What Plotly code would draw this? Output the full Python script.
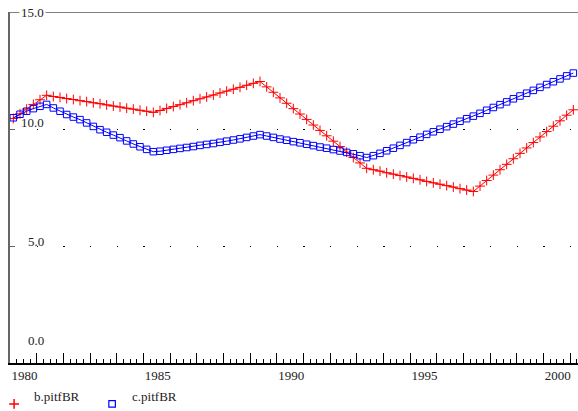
import plotly.graph_objects as go

# ---- data -------------------------------------------------------------
# quarterly observations 1980Q1 .. 2001Q1, plotted at the middle of each quarter
start_year = 1980
n_quarters = 85
quarters = [start_year + i / 4 + 0.125 for i in range(n_quarters)]

series_names = ["b.pitfBR", "c.pitfBR"]

b_pitfBR = [
    10.45, 10.65, 10.85, 11.05, 11.25, 11.44,
    11.39, 11.35, 11.30, 11.26, 11.21, 11.17, 11.12, 11.08, 11.03, 10.98,
    10.94, 10.89, 10.85, 10.80, 10.76, 10.71,
    10.79, 10.88, 10.96, 11.04, 11.12, 11.21, 11.29, 11.37, 11.45, 11.54,
    11.62, 11.70, 11.78, 11.87, 11.95, 12.03,
    11.80, 11.57, 11.33, 11.10, 10.87, 10.64, 10.41, 10.17, 9.94, 9.71,
    9.48, 9.25, 9.01, 8.78, 8.55, 8.32,
    8.26, 8.20, 8.13, 8.07, 8.01, 7.95, 7.89, 7.83, 7.76, 7.70,
    7.64, 7.58, 7.52, 7.45, 7.39, 7.33,
    7.56, 7.80, 8.03, 8.26, 8.49, 8.73, 8.96, 9.19, 9.42, 9.66,
    9.89, 10.12, 10.35, 10.59, 10.82,
]

c_pitfBR = [
    10.48, 10.63, 10.76, 10.87, 10.97, 11.05,
    10.90, 10.76, 10.62, 10.51, 10.40, 10.26, 10.11, 9.97, 9.86, 9.74,
    9.63, 9.49, 9.36, 9.24, 9.13, 9.03,
    9.05, 9.09, 9.13, 9.17, 9.21, 9.25, 9.30, 9.34, 9.38, 9.43,
    9.48, 9.53, 9.58, 9.64, 9.70, 9.76,
    9.70, 9.64, 9.57, 9.52, 9.46, 9.41, 9.35, 9.29, 9.23, 9.18,
    9.12, 9.06, 9.00, 8.94, 8.86, 8.78,
    8.86, 8.96, 9.07, 9.18, 9.30, 9.42, 9.54, 9.65, 9.77, 9.88,
    9.99, 10.10, 10.21, 10.33, 10.44, 10.55,
    10.67, 10.80, 10.92, 11.04, 11.16, 11.29, 11.41, 11.53, 11.65, 11.78,
    11.90, 12.02, 12.14, 12.27, 12.39,
]

x_tick_years = list(range(1980, 2002))
x_label_every = 5
y_tick_values = [0, 5, 10, 15]
y_tick_labels = ["0.0", "5.0", "10.0", "15.0"]

# ---- styling ----------------------------------------------------------
FONT = "Liberation Serif"
RED = "#ff0000"
BLUE = "#0000ff"
TXT = "#222222"

x_range = [1980, 2001.3]
y_range = [0, 15]

fig = go.Figure()

fig.add_trace(go.Scatter(
    x=quarters, y=b_pitfBR, mode="lines+markers", showlegend=False,
    line=dict(color=RED, width=1),
    marker=dict(symbol="cross-thin-open", size=7, color=RED, line=dict(color=RED, width=1)),
))
fig.add_trace(go.Scatter(
    x=quarters, y=c_pitfBR, mode="lines+markers", showlegend=False,
    line=dict(color=BLUE, width=1),
    marker=dict(symbol="square-open", size=6.5, color=BLUE, line=dict(color=BLUE, width=1)),
))

# legend-only entries (markers only, as in the reference)
fig.add_trace(go.Scatter(
    x=[None], y=[None], mode="markers", name=series_names[0] + "<br> ",
    marker=dict(symbol="cross-thin-open", size=7, color=RED, line=dict(color=RED, width=1.5)),
))
fig.add_trace(go.Scatter(
    x=[None], y=[None], mode="markers", name=series_names[1] + "<br> ",
    marker=dict(symbol="square-open", size=6.5, color=BLUE, line=dict(color=BLUE, width=1.2)),
))

x_tick_text = [str(y) if (y - x_tick_years[0]) % x_label_every == 0 else "" for y in x_tick_years]

fig.update_xaxes(
    range=x_range, showline=True, linecolor="black", linewidth=2,
    ticks="inside", ticklen=10, tickwidth=1, tickcolor="black",
    tickvals=x_tick_years, ticktext=x_tick_text,
    ticklabelposition="outside right", ticklabelstandoff=-1,
    tickfont=dict(family=FONT, size=13, color=TXT),
    minor=dict(ticks="inside", ticklen=4, tickwidth=1, tickcolor="black",
               dtick=0.25, tick0=1980, showgrid=False),
    showgrid=False, zeroline=False, fixedrange=True, automargin=False,
)
fig.update_yaxes(
    range=y_range, showline=True, linecolor="#666666", linewidth=2,
    ticks="inside", ticklen=5, tickwidth=1, tickcolor="#666666",
    tickvals=y_tick_values, showticklabels=False,
    showgrid=True, gridcolor="black", gridwidth=1.2, griddash="1.2px,25.467px",
    zeroline=False, fixedrange=True, automargin=False,
)

# top frame line at 15.0
fig.add_shape(type="line", xref="paper", yref="y", x0=0, x1=1, y0=15, y1=15,
              line=dict(color="#808080", width=2), layer="above")

# y tick labels drawn inside the plot, right-aligned
label_yshift = {"0.0": 23, "5.0": 5, "10.0": 7, "15.0": 0}
for v, t in zip(y_tick_values, y_tick_labels):
    fig.add_annotation(
        x=0, xref="paper", y=v, yref="y", text=t, showarrow=False,
        xanchor="right", yanchor="middle", xshift=36, yshift=label_yshift[t],
        font=dict(family=FONT, size=13, color=TXT),
        bgcolor="white" if t == "15.0" else "rgba(0,0,0,0)", borderpad=1,
    )

fig.update_layout(
    width=578, height=411,
    margin=dict(l=10, r=0, t=12, b=48, autoexpand=False),
    paper_bgcolor="white", plot_bgcolor="white",
    font=dict(family=FONT, size=13, color=TXT),
    showlegend=True,
    legend=dict(
        orientation="h", x=-0.028, xanchor="left", y=-0.05, yanchor="top",
        entrywidth=53, entrywidthmode="pixels", itemwidth=30,
        font=dict(family=FONT, size=13, color=TXT),
        bgcolor="rgba(0,0,0,0)", valign="middle", tracegroupgap=0,
    ),
)

fig.write_html(
    "out.html",
    config={"displayModeBar": False},
    post_script="document.body.style.margin='0';document.body.style.padding='0';",
)
